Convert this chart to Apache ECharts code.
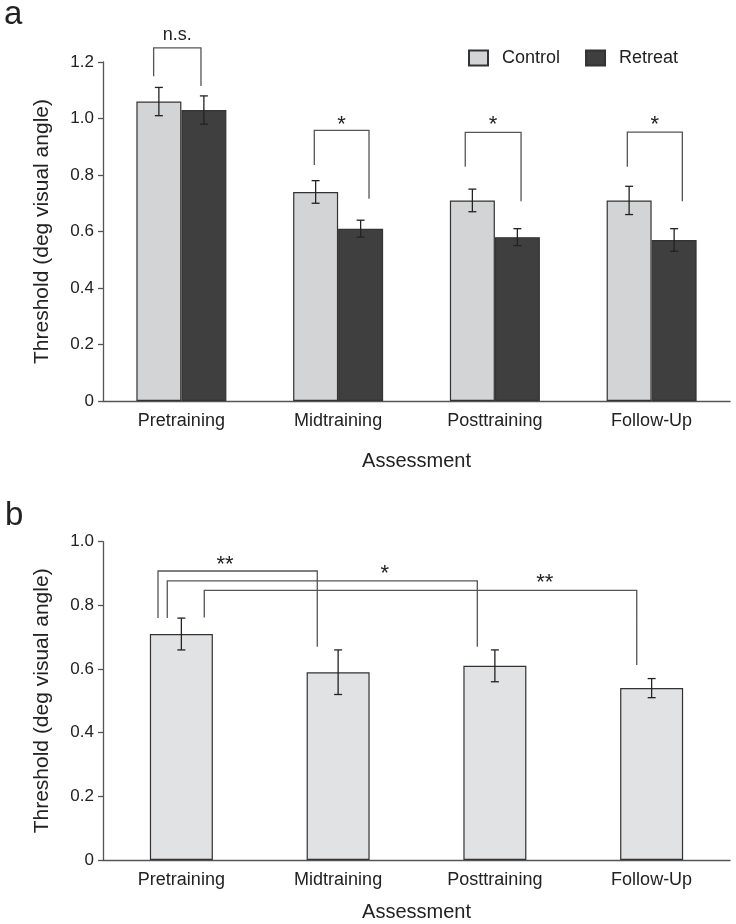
<!DOCTYPE html>
<html><head><meta charset="utf-8">
<script src="https://cdn.jsdelivr.net/npm/echarts@6/dist/echarts.min.js"></script>
<style>html,body{margin:0;padding:0;background:#fff}#c{width:736px;height:924px}</style>
</head><body><div id="c"></div>
<script>
const categories = ['Pretraining', 'Midtraining', 'Posttraining', 'Follow-Up'];
const controlMean = [1.06, 0.74, 0.71, 0.71];
const controlErr = [0.05, 0.04, 0.04, 0.05];
const retreatMean = [1.03, 0.61, 0.58, 0.57];
const retreatErr = [0.05, 0.03, 0.03, 0.04];
const overallMean = [0.71, 0.59, 0.61, 0.54];
const overallErr = [0.05, 0.07, 0.05, 0.03];
const yMaxA = 1.2, yMaxB = 1.0, yStep = 0.2;
// significance brackets: [leftCat, leftOffset(band), rightCat, rightOffset(band), top, leftBottom, rightBottom]
const bracketsA = [[0,-0.177,0,0.125,1.25,1.15,1.115],[1,-0.152,1,0.197,0.958,0.835,0.716],[2,-0.189,2,0.167,0.951,0.829,0.707],[3,-0.155,3,0.196,0.952,0.829,0.707]];
const bracketLabelsA = ['n.s.', '*', '*', '*'];
const bracketLabelPosA = [[0,-0.026,1.296],[1,0.022,0.978],[2,-0.011,0.978],[3,0.02,0.978]];
const bracketsB = [[0,-0.149,1,-0.133,0.908,0.760,0.670],[0,-0.090,2,-0.112,0.877,0.760,0.670],[0,0.146,3,-0.095,0.847,0.762,0.613]];
const bracketLabelsB = ['**', '*', '**'];
const bracketLabelPosB = [[0,0.278,0.927],[1,0.297,0.899],[2,0.318,0.869]];

const FONT = 'Liberation Sans, Arial, Helvetica, sans-serif';
const TXT = '#222';
const AX = '#555';
const ctrlColor = '#d3d4d6', retColor = '#3f3f3f', allColor = '#e1e2e4';
const barWA = 45, barWB = 63;

function errRender(offset) {
  return function (params, api) {
    const x = api.value(0), m = api.value(1), e = api.value(2);
    const hi = api.coord([x, m + e]);
    const lo = api.coord([x, m - e]);
    const cx = hi[0] + offset, w = 4;
    const st = { stroke: '#222', lineWidth: 1.3 };
    return { type: 'group', children: [
      { type: 'line', shape: { x1: cx, y1: hi[1], x2: cx, y2: lo[1] }, style: st },
      { type: 'line', shape: { x1: cx - w, y1: hi[1], x2: cx + w, y2: hi[1] }, style: st },
      { type: 'line', shape: { x1: cx - w, y1: lo[1], x2: cx + w, y2: lo[1] }, style: st }
    ]};
  };
}
function bracketRender(labels, labelPos) {
  return function (params, api) {
    const band = api.size([1, 0])[0];
    const top = api.coord([api.value(0), api.value(4)]);
    const xl = api.coord([api.value(0), 0])[0] + api.value(1) * band;
    const xr = api.coord([api.value(2), 0])[0] + api.value(3) * band;
    const yl = api.coord([api.value(0), api.value(5)])[1];
    const yr = api.coord([api.value(2), api.value(6)])[1];
    const lp = labelPos[params.dataIndex];
    const lc = api.coord([lp[0], lp[2]]);
    const txt = labels[params.dataIndex];
    const fs = txt === 'n.s.' ? 18 : 22;
    const st = { stroke: '#555', lineWidth: 1.3, fill: null };
    return { type: 'group', children: [
      { type: 'polyline', shape: { points: [[xl, yl], [xl, top[1]], [xr, top[1]], [xr, yr]] }, style: st },
      { type: 'text', x: lc[0] + lp[1] * band, y: lc[1], style: { text: txt, fill: TXT, font: fs + 'px ' + FONT, align: 'center', verticalAlign: 'middle' } }
    ]};
  };
}
function yAxisCfg(idx, max) {
  return {
    type: 'value', gridIndex: idx, min: 0, max: max, interval: yStep,
    name: 'Threshold (deg visual angle)', nameLocation: 'middle', nameGap: 50,
    nameTextStyle: { fontFamily: FONT, fontSize: 21, color: TXT },
    axisLine: { show: true, lineStyle: { color: AX, width: 1.3 } },
    axisTick: { show: true, length: 5, lineStyle: { color: AX, width: 1.3 } },
    splitLine: { show: false },
    axisLabel: { fontFamily: FONT, fontSize: 17, color: TXT, margin: 9, formatter: v => v === 0 ? '0' : v.toFixed(1) }
  };
}
function xAxisCfg(idx, gap) {
  return {
    type: 'category', gridIndex: idx, data: categories,
    name: 'Assessment', nameLocation: 'middle', nameGap: gap,
    nameTextStyle: { fontFamily: FONT, fontSize: 20, color: TXT },
    axisLine: { lineStyle: { color: AX, width: 1.3 } },
    axisTick: { show: false },
    axisLabel: { fontFamily: FONT, fontSize: 18, color: TXT, margin: 11 }
  };
}
const chart = echarts.init(document.getElementById('c'), null, { renderer: 'canvas' });
chart.setOption({
  animation: false,
  backgroundColor: '#fff',
  textStyle: { fontFamily: FONT },
  graphic: [
    { type: 'text', left: 4, top: -2, style: { text: 'a', font: '33px ' + FONT, fill: TXT } },
    { type: 'text', left: 5, top: 499, style: { text: 'b', font: '33px ' + FONT, fill: TXT } }
  ],
  legend: {
    data: ['Control', 'Retreat'], left: 468, top: 49, padding: 0, itemWidth: 19, itemHeight: 15, itemGap: 25,
    icon: 'rect',
    textStyle: { fontFamily: FONT, fontSize: 18, color: TXT, padding: [0, 0, 0, 9] }
  },
  grid: [
    { left: 103, right: 6, top: 62, height: 339 },
    { left: 103, right: 6, top: 541.7, height: 318.3 }
  ],
  xAxis: [xAxisCfg(0, 50), xAxisCfg(1, 42)],
  yAxis: [yAxisCfg(0, yMaxA), yAxisCfg(1, yMaxB)],
  series: [
    { name: 'Control', type: 'bar', xAxisIndex: 0, yAxisIndex: 0, data: controlMean, barWidth: barWA, barGap: '0%',
      itemStyle: { color: ctrlColor, borderColor: '#333', borderWidth: 1.2 } },
    { name: 'Retreat', type: 'bar', xAxisIndex: 0, yAxisIndex: 0, data: retreatMean, barWidth: barWA, barGap: '0%',
      itemStyle: { color: retColor, borderColor: '#333', borderWidth: 1.2 } },
    { type: 'custom', xAxisIndex: 0, yAxisIndex: 0, z: 5, renderItem: errRender(-barWA / 2),
      data: controlMean.map((m, i) => [i, m, controlErr[i]]) },
    { type: 'custom', xAxisIndex: 0, yAxisIndex: 0, z: 5, renderItem: errRender(barWA / 2),
      data: retreatMean.map((m, i) => [i, m, retreatErr[i]]) },
    { type: 'custom', xAxisIndex: 0, yAxisIndex: 0, z: 6, clip: false, renderItem: bracketRender(bracketLabelsA, bracketLabelPosA),
      data: bracketsA },
    { name: 'All', type: 'bar', xAxisIndex: 1, yAxisIndex: 1, data: overallMean, barWidth: barWB,
      itemStyle: { color: allColor, borderColor: '#333', borderWidth: 1.2 } },
    { type: 'custom', xAxisIndex: 1, yAxisIndex: 1, z: 5, renderItem: errRender(0),
      data: overallMean.map((m, i) => [i, m, overallErr[i]]) },
    { type: 'custom', xAxisIndex: 1, yAxisIndex: 1, z: 6, clip: false, renderItem: bracketRender(bracketLabelsB, bracketLabelPosB),
      data: bracketsB }
  ]
});
</script></body></html>
